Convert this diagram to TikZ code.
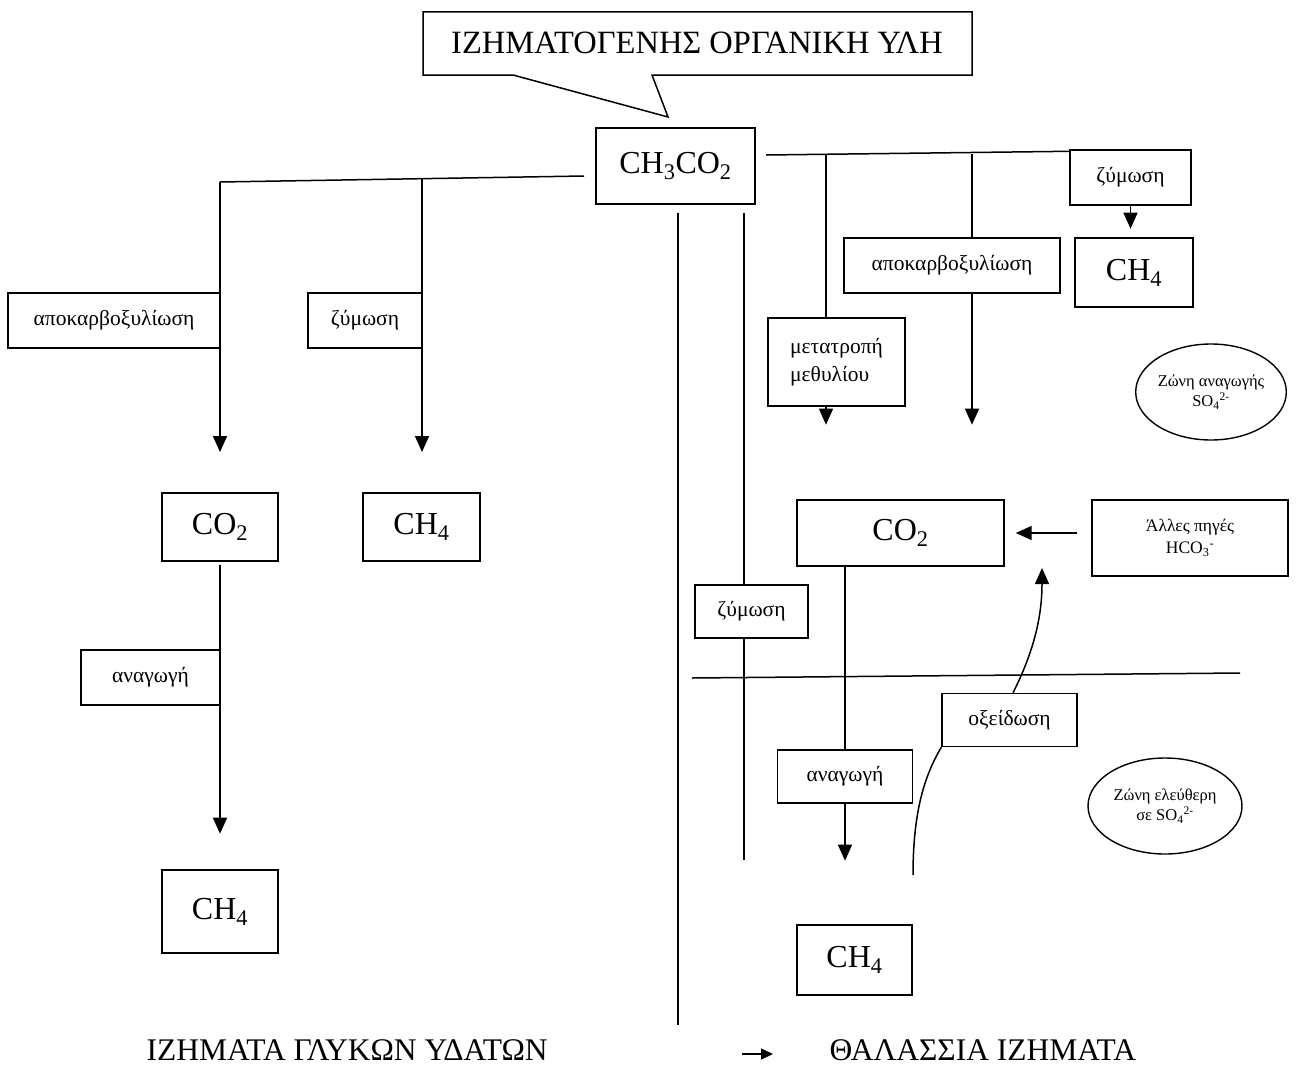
\documentclass[tikz,border=0pt]{standalone}
\usepackage{fontspec}
\setmainfont{Liberation Serif}
\usepackage{tikz}
\usetikzlibrary{shapes,arrows.meta,positioning,calc}

\tikzset{
  procbox/.style={draw, line width=1.4pt, align=center, inner sep=2pt,
    font=\fontsize{21.5}{26}\selectfont},
  chembox/.style={procbox, font=\fontsize{32}{36}\selectfont},
  zone/.style={draw, ellipse, line width=1.4pt, align=center, inner sep=0pt,
    font=\fontsize{16.5}{20}\selectfont},
  ln/.style={line width=1.5pt},
  arr/.style={ln, -{Triangle[length=16pt,width=14pt]}}
}

\begin{document}
\begin{tikzpicture}[x=1pt, y=-1pt]
  \useasboundingbox (0,0) rectangle (1297,1073);

  % callout on top
  \node[font=\fontsize{32.5}{36}\selectfont] (title) at (697,43) {ΙΖΗΜΑΤΟΓΕΝΗΣ ΟΡΓΑΝΙΚΗ ΥΛΗ};
  \draw[ln] (423,12) -- (972,12) -- (972,75) -- (652,75) -- (668,117) -- (513,75) -- (423,75) -- cycle;

  \node[chembox, minimum width=159pt, minimum height=76pt] (ch3) at (675.5,166) {CH\textsubscript{3}CO\textsubscript{2}};

  % fresh water side
  \node[procbox, minimum width=212pt, minimum height=55pt] (decL) at (114,320.5) {αποκαρβοξυλίωση};
  \node[procbox, minimum width=114pt, minimum height=55pt] (fermL) at (365,320.5) {ζύμωση};
  \node[chembox, minimum width=116pt, minimum height=68pt] (co2L) at (220,527) {CO\textsubscript{2}};
  \node[chembox, minimum width=117pt, minimum height=68pt] (ch4M) at (421.5,527) {CH\textsubscript{4}};
  \node[procbox, minimum width=139pt, minimum height=55pt] (redL) at (150.5,677.5) {αναγωγή};
  \node[chembox, minimum width=116pt, minimum height=83pt] (ch4L) at (220,911.5) {CH\textsubscript{4}};

  \coordinate (tl) at (584,176);
  \coordinate (cl) at (220,182);
  \coordinate (cm) at (422,179);
  \draw[ln] (tl) -- (cl);
  \draw[arr] (cl) -- ++(0,270);
  \draw[arr] (cm) -- ++(0,273);
  \draw[arr] ([yshift=-3pt]co2L.south) -- ++(0,269);

  % marine side
  \node[procbox, minimum width=121pt, minimum height=55pt] (fermTR) at (1130.5,177.5) {ζύμωση};
  \node[chembox, minimum width=118pt, minimum height=69pt] (ch4TR) at (1134,272.5) {CH\textsubscript{4}};
  \node[procbox, minimum width=216pt, minimum height=55pt] (decR) at (952,265.5) {αποκαρβοξυλίωση};
  \node[procbox, minimum width=137pt, minimum height=88pt] (meth) at (836.5,362) {\begin{tabular}{@{}l@{}}μετατροπή\\[2pt] μεθυλίου\end{tabular}};
  \node[zone, minimum width=144pt, minimum height=96pt] (zoneS) at (1211,392) {Ζώνη αναγωγής\\SO\textsubscript{4}\textsuperscript{2-}};
  \node[chembox, minimum width=207pt, minimum height=66pt] (co2R) at (900.5,533) {CO\textsubscript{2}};
  \node[procbox, minimum width=196pt, minimum height=76pt, font=\fontsize{17.5}{22}\selectfont] (other) at (1190,538) {Άλλες πηγές\\HCO\textsubscript{3}\textsuperscript{-}};
  \node[procbox, minimum width=113pt, minimum height=53pt] (fermR) at (751.5,611.5) {ζύμωση};
  \node[procbox, minimum width=135pt, minimum height=53pt] (oxid) at (1009.5,720) {οξείδωση};
  \node[procbox, minimum width=135pt, minimum height=53pt] (redR) at (845,776.5) {αναγωγή};
  \node[zone, minimum width=154pt, minimum height=96pt] (zoneF) at (1165,806) {Ζώνη ελεύθερη\\σε SO\textsubscript{4}\textsuperscript{2-}};
  \node[chembox, minimum width=115pt, minimum height=70pt] (ch4R) at (854.5,960) {CH\textsubscript{4}};

  \coordinate (tr) at (766,155);
  \coordinate (t1) at (826,154.5);
  \coordinate (t2) at (972,153.5);
  \draw[ln] (tr) -- ([yshift=-2pt]fermTR.north west);
  \draw[ln] (t1) -- (t1 |- meth.north);
  \draw[arr] (t1 |- meth.south) -- ++(0,18);
  \draw[ln] (t2) -- (t2 |- decR.north);
  \draw[arr] (t2 |- decR.south) -- ++(0,131);
  \draw[arr] (fermTR.south) -- ++(0,23);
  \draw[arr] ([xshift=-14pt]other.west |- co2R.east) -- ([xshift=11pt]co2R.east);

  % divider lines
  \coordinate (v1) at (678,213);
  \coordinate (v2) at (744,213);
  \draw[ln] (v1) -- (678,1025);
  \draw[ln] (v2) -- (v2 |- fermR.north);
  \draw[ln] (v2 |- fermR.south) -- (744,860);
  \draw[ln] (692,678) -- (1240,673);

  \draw[ln] (co2R.south -| redR.north) -- (redR.north);
  \draw[arr] (redR.south) -- ++(0,57);

  \draw[ln] (913,875) .. controls (913,810) and (925,775) .. (oxid.south west);
  \coordinate (ox) at (oxid.north -| 1013,0);
  \draw[arr] (ox) .. controls (1032,655) and (1042,620) .. (1042,568);

  % legend
  \node[font=\fontsize{31.5}{36}\selectfont, anchor=west] (fresh) at (143,1050) {ΙΖΗΜΑΤΑ ΓΛΥΚΩΝ ΥΔΑΤΩΝ};
  \node[font=\fontsize{31.5}{36}\selectfont, anchor=west] (sea) at (826,1050) {ΘΑΛΑΣΣΙΑ ΙΖΗΜΑΤΑ};
  \coordinate (la) at (742,1054);
  \draw[ln, -{Triangle[length=12pt,width=11pt]}] (la) -- ++(31,0);
\end{tikzpicture}
\end{document}
